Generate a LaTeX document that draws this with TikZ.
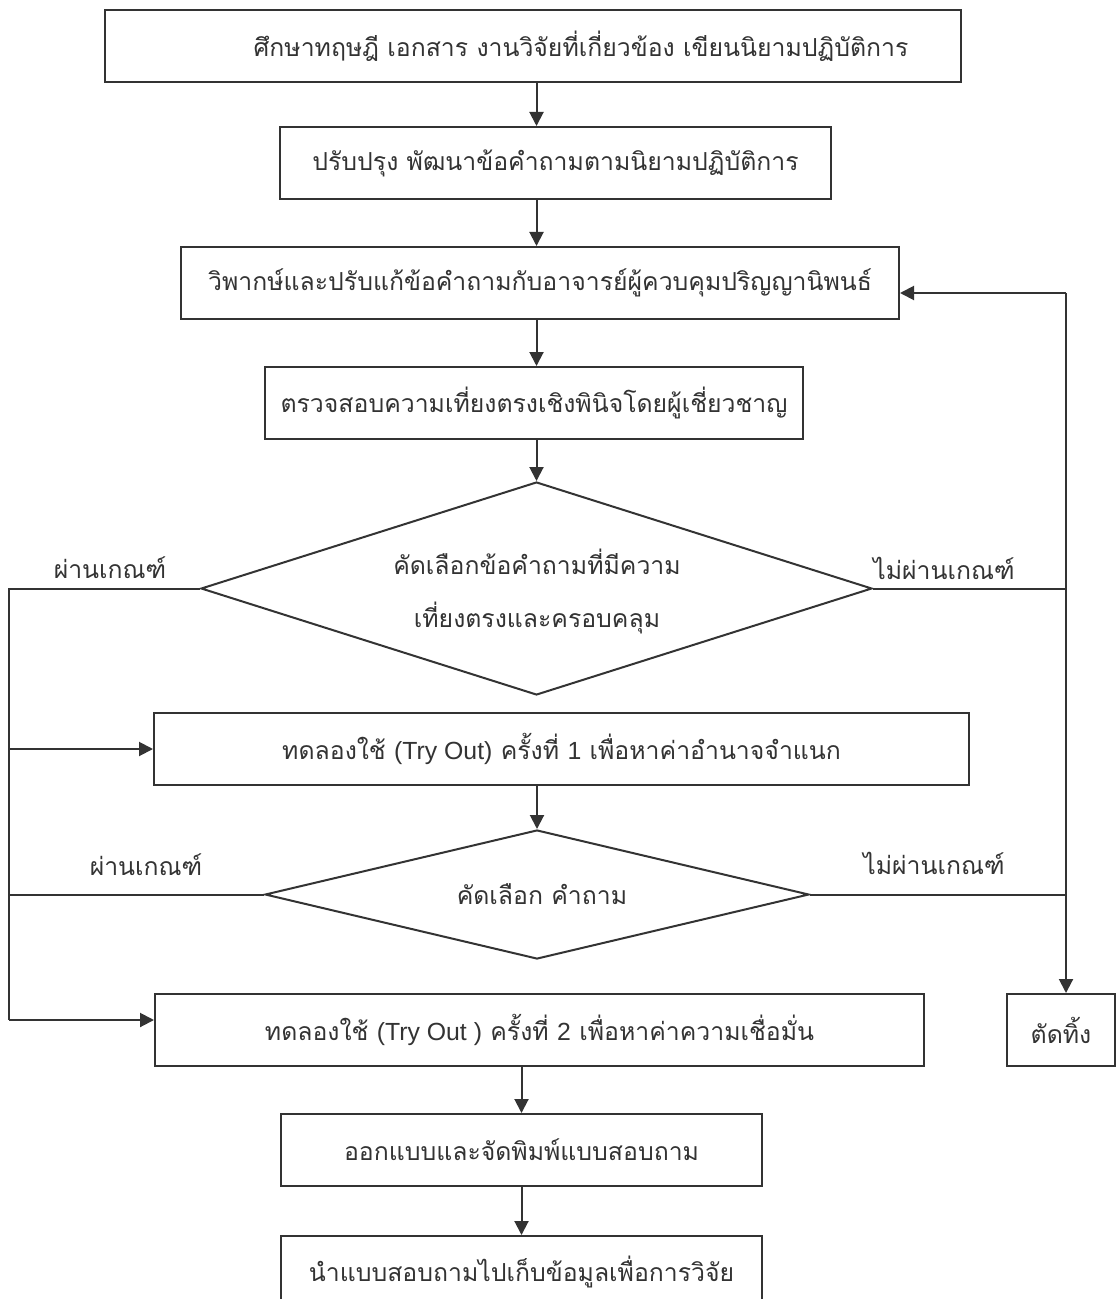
\documentclass[tikz,border=0pt]{standalone}
\usepackage{fontspec}
\newfontfamily\thaifont[Script=Thai]{Loma}
\newfontfamily\latinfont{Liberation Sans}
\usetikzlibrary{arrows.meta,shapes.geometric}
\definecolor{ink}{HTML}{333333}
\begin{document}
\begin{tikzpicture}[x=0.5pt,y=-0.5pt,
  every node/.style={text=ink, font=\thaifont\fontsize{12.4}{26.5}\selectfont},
  box/.style={draw=ink, line width=1pt, rectangle, inner sep=0pt, minimum height=36pt},
  dia/.style={draw=ink, line width=1pt, diamond, inner sep=0pt},
  txt/.style={inner sep=0pt, align=center},
  conn/.style={draw=ink, line width=1pt},
  arr/.style={conn, -{Triangle[length=7pt,width=7pt]}}]
\useasboundingbox (0,0) rectangle (1116,1299);
% boxes
\node[box, minimum width=428pt] (b1) at (533,46) {};
\node[txt] (t1) at (581,46) {ศึกษาทฤษฎี เอกสาร งานวิจัยที่เกี่ยวข้อง เขียนนิยามปฏิบัติการ};
\node[box, minimum width=275.5pt] (b2) at (555.5,163) {ปรับปรุง พัฒนาข้อคำถามตามนิยามปฏิบัติการ};
\node[box, minimum width=359pt] (b3) at (540,283) {วิพากษ์และปรับแก้ข้อคำถามกับอาจารย์ผู้ควบคุมปริญญานิพนธ์};
\node[box, minimum width=269pt] (b4) at (534,403) {ตรวจสอบความเที่ยงตรงเชิงพินิจโดยผู้เชี่ยวชาญ};
\node[dia, minimum width=335.5pt, minimum height=106.5pt] (d1) at (536.5,588.5) {};
\node[txt] (t5) at (537,591) {คัดเลือกข้อคำถามที่มีความ\\เที่ยงตรงและครอบคลุม};
\node[box, minimum width=407.5pt] (b5) at (561.5,749) {ทดลองใช้ {\latinfont(Try Out)} ครั้งที่ {\latinfont 1} เพื่อหาค่าอำนาจจำแนก};
\node[dia, minimum width=272pt, minimum height=64.5pt] (d2) at (537,894.5) {};
\node[txt] (t6) at (542,894) {คัดเลือก คำถาม};
\node[box, minimum width=384.5pt] (b6) at (539.5,1030) {ทดลองใช้ {\latinfont(Try Out )} ครั้งที่ {\latinfont 2} เพื่อหาค่าความเชื่อมั่น};
\node[box, minimum width=54pt] (cut) at (1061,1030) {ตัดทิ้ง};
\node[box, minimum width=240.5pt] (b7) at (521.5,1150) {ออกแบบและจัดพิมพ์แบบสอบถาม};
\node[box, minimum width=240.5pt] (b8) at (521.5,1272) {นำแบบสอบถามไปเก็บข้อมูลเพื่อการวิจัย};
% labels
\node[txt] (p1) at (110,568) {ผ่านเกณฑ์};
\node[txt] (f1) at (944,568) {ไม่ผ่านเกณฑ์};
\node[txt] (p2) at (146,865) {ผ่านเกณฑ์};
\node[txt] (f2) at (934,863) {ไม่ผ่านเกณฑ์};
% helper coordinates
\coordinate (R) at (1066,293);
\coordinate (L) at (9,588.5);
\coordinate (L2) at (9,1020);
% main flow
\draw[arr] (b1.south -| d1.north) -- (b2.north -| d1.north);
\draw[arr] (b2.south -| d1.north) -- (b3.north -| d1.north);
\draw[arr] (b3.south -| d1.north) -- (b4.north -| d1.north);
\draw[arr] (b4.south -| d1.north) -- (d1.north);
\draw[arr] (b5.south -| d2.north) -- (d2.north);
\draw[arr] (b6.south -| b7.north) -- (b7.north);
\draw[arr] (b7.south) -- (b8.north);
% right side
\draw[arr] (R) -- (b3.east |- R);
\draw[arr] (R) -- (R |- cut.north);
\draw[conn] (d1.east) -- (d1.east -| R);
\draw[conn] (d2.east) -- (d2.east -| R);
% left side
\draw[conn] (d1.west) -- (L) -- (L2);
\draw[conn] (d2.west) -- (d2.west -| L);
\draw[arr] (L |- b5.west) -- (b5.west);
\draw[arr] (L2) -- (L2 -| b6.west);
\end{tikzpicture}
\end{document}
